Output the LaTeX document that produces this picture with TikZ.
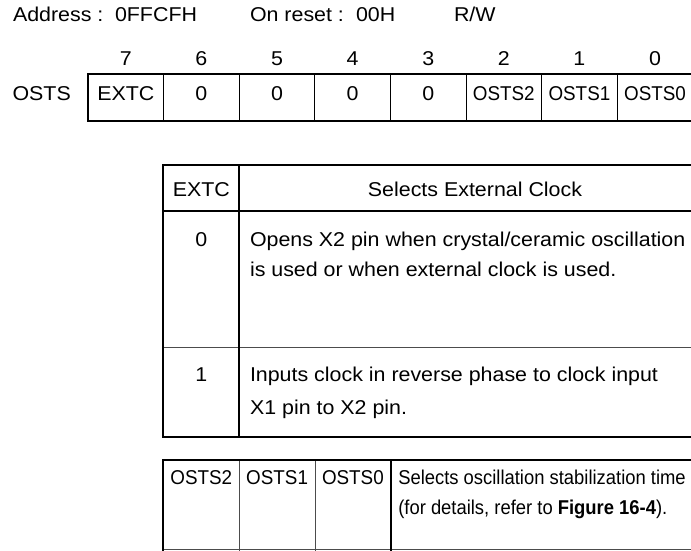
\documentclass[tikz,border=0pt]{standalone}
\usepackage{fontspec}
\setmainfont[FakeStretch=1.07]{Liberation Sans}
\usepackage{graphicx}
\begin{document}
\begin{tikzpicture}[x=1pt,y=-1pt,
  every node/.style={inner sep=0pt,outer sep=0pt,font=\fontsize{20}{24}\selectfont},
  tl/.style={anchor=base west},
  tc/.style={anchor=base},
  thk/.style={line width=2.2pt,line cap=rect},
  thg/.style={line width=1pt,draw=black!70},
  cell/.style={draw,line width=1pt,minimum width=75.6pt,minimum height=46.7pt},
]
\useasboundingbox (0,0) rectangle (691,550);

% header line
\node[tl] (addr) at (13,21.7) {Address :};
\node[tl] (addrv) at (115,21.7) {0FFCFH};
\node[tl] (rst) at (250,21.7) {On reset :};
\node[tl] (rstv) at (356,21.7) {00H};
\node[tl] (rw) at (454,21.7) {R/W};

% bit numbers and register cells
\foreach \b [count=\i from 0] in {7,6,5,4,3,2,1,0} {
  \node[tc] (b\b) at (125.8+75.6*\i,65) {\b};
  \node[cell] (c\b) at (125.8+75.6*\i,97.35) {};
}
\draw[thk] (c7.north west) rectangle (c0.south east);
\node[tc] (regname) at (41.7,100) {OSTS};
\node[tc] (lextc) at (c7.center|-0,100) {EXTC};
\node[tc] (l6) at (c6.center|-0,100) {0};
\node[tc] (l5) at (c5.center|-0,100) {0};
\node[tc] (l4) at (c4.center|-0,100) {0};
\node[tc] (l3) at (c3.center|-0,100) {0};
\node[tc] (l2) at (c2.center|-0,100) {\scalebox{0.88}[1]{OSTS2}};
\node[tc] (l1) at (c1.center|-0,100) {\scalebox{0.88}[1]{OSTS1}};
\node[tc] (l0) at (c0.center|-0,100) {\scalebox{0.88}[1]{OSTS0}};

% table 1
\coordinate (t1tl) at (163.3,165);
\coordinate (t1br) at (712,437.3);
\draw[thg] (163.3,347) -- (712,347);
\draw[thk] (163.3,211) -- (712,211);
\draw[thk] (239.3,165) -- (239.3,437.3);
\draw[thk] (t1tl) rectangle (t1br);
\node[tc] (h1) at (201.3,196) {EXTC};
\node[tc] (h2) at (475,196) {Selects External Clock};
\node[tc] (v0) at (201.3,246) {0};
\node[tl] (d0a) at (250,246) {Opens X2 pin when crystal/ceramic oscillation};
\node[tl] (d0b) at (250,276) {is used or when external clock is used.};
\node[tc] (v1) at (201.3,381) {1};
\node[tl] (d1a) at (250,381) {Inputs clock in reverse phase to clock input};
\node[tl] (d1b) at (250,414) {X1 pin to X2 pin.};

% table 2
\draw[thg] (163.3,549) -- (712,549);
\draw[thg] (239.3,460) -- (239.3,560);
\draw[thg] (315,460) -- (315,560);
\draw[thk] (390.7,460) -- (390.7,560);
\draw[thk] (163.3,560) -- (163.3,460) -- (712,460);
\node[tc] (s2) at (201.3,484) {\scalebox{0.88}[1]{OSTS2}};
\node[tc] (s1) at (277.1,484) {\scalebox{0.88}[1]{OSTS1}};
\node[tc] (s0) at (352.9,484) {\scalebox{0.88}[1]{OSTS0}};
\node[tl] (sd1) at (398.3,484) {\scalebox{0.86}[1]{Selects oscillation stabilization time}};
\node[tl] (sd2) at (398.3,514) {\scalebox{0.86}[1]{(for details, refer to \textbf{Figure 16-4}).}};
\end{tikzpicture}
\end{document}
